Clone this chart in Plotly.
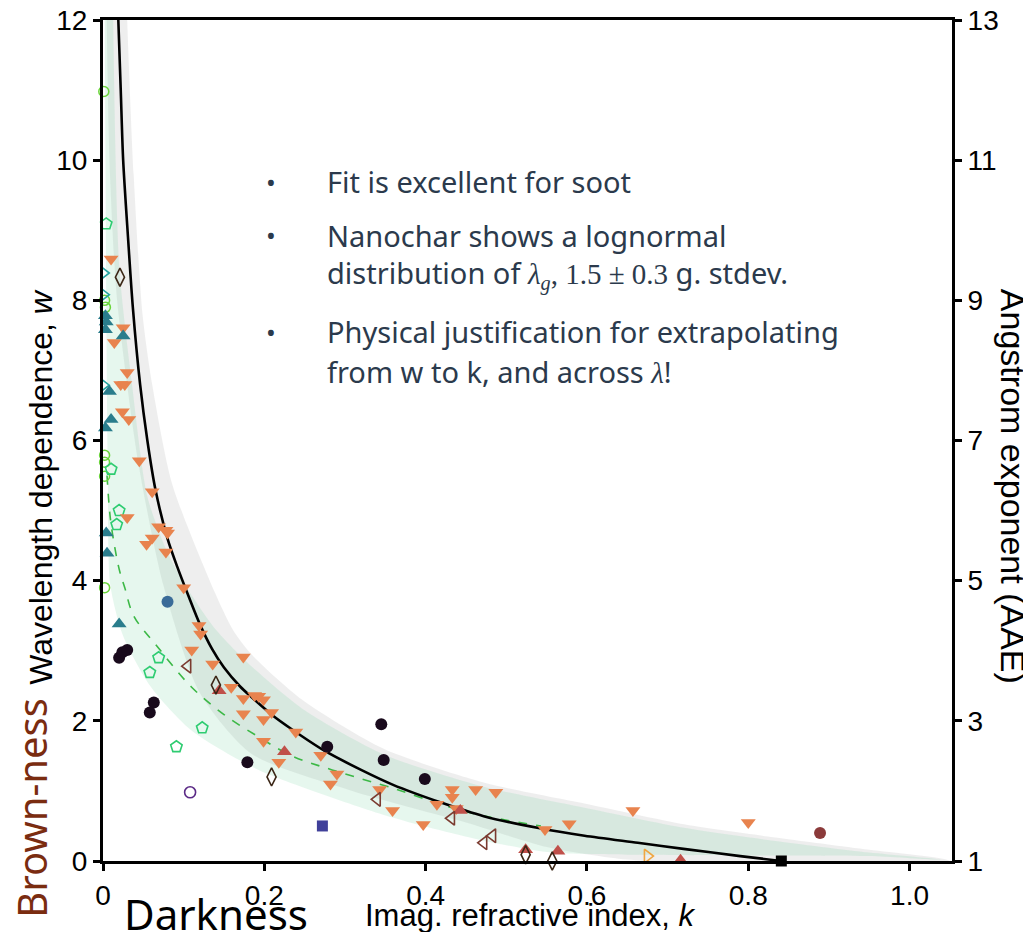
import plotly.graph_objects as go

# ---------------- data ----------------
# fitted curve (black)
fit_k = [0.019, 0.022, 0.025, 0.031, 0.037, 0.046, 0.055, 0.065, 0.080, 0.092, 0.106, 0.120, 0.135, 0.150,
         0.170, 0.184, 0.210, 0.234, 0.275, 0.320, 0.359, 0.420, 0.472, 0.540, 0.597, 0.663, 0.722, 0.790, 0.841]
fit_w = [12.0, 11.0, 10.0, 8.9, 7.9, 6.8, 6.0, 5.3, 4.6, 4.2, 3.78, 3.38, 3.03, 2.76,
         2.49, 2.34, 2.08, 1.88, 1.57, 1.30, 1.09, 0.83, 0.64, 0.47, 0.36, 0.26, 0.17, 0.07, 0.0]

# nanochar median curve (green dashed)
med_k = [0.005, 0.009, 0.015, 0.021, 0.027, 0.038, 0.068, 0.109, 0.150, 0.193, 0.234, 0.284, 0.359, 0.451, 0.543]
med_w = [5.5, 4.9, 4.45, 4.12, 3.9, 3.5, 3.05, 2.49, 2.09, 1.77, 1.50, 1.30, 1.04, 0.70, 0.50]

# fit uncertainty band (grey)
grey_up_k = [0.029, 0.030, 0.038, 0.049, 0.061, 0.086, 0.138, 0.161, 0.184, 0.247, 0.348, 0.472, 0.597, 0.722, 0.831, 0.950, 1.050]
grey_up_w = [12.5, 12.0, 9.8, 7.8, 6.8, 5.37, 3.85, 3.3, 2.95, 2.3, 1.6, 1.12, 0.82, 0.52, 0.34, 0.16, 0.0]
grey_lo_k = [0.004, 0.008, 0.0175, 0.045, 0.075, 0.120, 0.184, 0.309, 0.450, 0.550, 0.650, 0.800, 1.050]
grey_lo_w = [12.5, 10.0, 8.0, 5.6, 3.93, 2.4, 1.53, 1.0, 0.55, 0.2, 0.02, -0.05, -0.05]

# nanochar lognormal band (mint)
mint_up_k = [0.012, 0.020, 0.036, 0.055, 0.080, 0.104, 0.140, 0.184, 0.250, 0.348, 0.472, 0.597, 0.722, 0.831, 0.950, 1.040]
mint_up_w = [12.5, 8.5, 6.8, 5.2, 4.4, 3.9, 3.3, 2.78, 2.15, 1.52, 1.06, 0.76, 0.47, 0.29, 0.12, 0.02]
mint_lo_k = [0.002, 0.004, 0.006, 0.009, 0.025, 0.059, 0.109, 0.193, 0.359, 0.472, 0.556, 0.650, 0.800, 0.950, 1.030]
mint_lo_w = [12.5, 8.0, 5.5, 3.94, 3.21, 2.49, 1.87, 1.30, 0.62, 0.29, 0.12, 0.09, 0.08, 0.07, 0.02]

# measurements
orange_k = [0.010, 0.025, 0.014, 0.030, 0.022, 0.027, 0.024, 0.032, 0.045, 0.061, 0.030, 0.069, 0.078, 0.080,
            0.061, 0.054, 0.078, 0.100, 0.119, 0.121, 0.110, 0.174, 0.136, 0.159, 0.174, 0.188, 0.193, 0.199,
            0.174, 0.209, 0.199, 0.239, 0.199, 0.218, 0.270, 0.290, 0.282, 0.343, 0.359, 0.397, 0.414, 0.433,
            0.433, 0.438, 0.462, 0.487, 0.548, 0.578, 0.657, 0.800]
orange_w = [8.59, 7.61, 7.40, 6.97, 6.80, 6.80, 6.41, 6.30, 5.71, 5.27, 4.90, 4.77, 4.72, 4.68,
            4.61, 4.52, 4.41, 3.90, 3.36, 3.24, 3.01, 2.91, 2.81, 2.48, 2.32, 2.36, 2.35, 2.30,
            2.10, 2.12, 2.02, 1.84, 1.71, 1.41, 1.51, 1.24, 1.10, 1.02, 0.72, 0.52, 0.81, 1.02,
            0.91, 0.75, 1.02, 0.98, 0.45, 0.53, 0.72, 0.55]

teal_k = [0.003, 0.004, 0.003, 0.025, 0.008, 0.010, 0.003, 0.004, 0.005, 0.020]
teal_w = [7.78, 7.69, 7.58, 7.49, 6.70, 6.30, 6.18, 4.68, 4.39, 3.38]

red_k = [0.144, 0.225, 0.443, 0.524, 0.564, 0.716]
red_w = [2.43, 1.56, 0.72, 0.16, 0.14, 0.01]

soot_k = [0.020, 0.024, 0.030, 0.063, 0.058, 0.179, 0.278, 0.345, 0.348, 0.399]
soot_w = [2.90, 2.98, 3.01, 2.26, 2.12, 1.41, 1.63, 1.95, 1.44, 1.17]

blue_k, blue_w = [0.080], [3.70]
brown_k, brown_w = [0.889], [0.40]
blacksq_k, blacksq_w = [0.841], [0.0]
navy_k, navy_w = [0.272], [0.50]
purple_k, purple_w = [0.108], [0.98]

diamond_k = [0.021, 0.140, 0.209, 0.524, 0.557]
diamond_w = [8.33, 2.51, 1.20, 0.09, 0.0]

left_k = [0.105, 0.340, 0.432, 0.472, 0.483]
left_w = [2.78, 0.88, 0.61, 0.26, 0.36]

yright_k, yright_w = [0.675], [0.07]

tright_k = [0.001, 0.001, 0.001]
tright_w = [8.39, 8.08, 6.79]

lime_k = [0.001, 0.002, 0.003, 0.002, 0.002, 0.002, 0.002]
lime_w = [10.98, 8.00, 7.90, 5.79, 5.69, 5.49, 3.90]

pent_k = [0.004, 0.010, 0.020, 0.017, 0.069, 0.058, 0.123, 0.091]
pent_w = [9.09, 5.59, 5.00, 4.80, 2.90, 2.69, 1.90, 1.63]

x_ticks = [0, 0.2, 0.4, 0.6, 0.8, 1.0]
x_tick_text = ["0", "0.2", "0.4", "0.6", "0.8", "1.0"]
y_ticks = [0, 2, 4, 6, 8, 10, 12]
y2_ticks = [1, 3, 5, 7, 9, 11, 13]

# ---------------- figure ----------------
fig = go.Figure()

def band(up_k, up_w, lo_k, lo_w, color):
    fig.add_trace(go.Scatter(
        x=up_k + lo_k[::-1], y=up_w + lo_w[::-1], mode="lines", fill="toself",
        fillcolor=color, line=dict(width=0, shape="spline", smoothing=0.7),
        hoverinfo="skip", showlegend=False))

band(grey_up_k, grey_up_w, grey_lo_k, grey_lo_w, "rgba(200,200,200,0.30)")
band(mint_up_k, mint_up_w, mint_lo_k, mint_lo_w, "rgba(88,202,142,0.15)")

fig.add_trace(go.Scatter(x=med_k, y=med_w, mode="lines",
                         line=dict(color="#3cb846", width=1.6, dash="dash", shape="spline"),
                         hoverinfo="skip", showlegend=False))
fig.add_trace(go.Scatter(x=fit_k, y=fit_w, mode="lines",
                         line=dict(color="black", width=2.6, shape="spline", smoothing=0.8),
                         hoverinfo="skip", showlegend=False))

def pts(xs, ys, symbol, color, size=12, open_=False, lw=1.6):
    if open_:
        marker = dict(symbol=symbol, size=size, color=color, line=dict(color=color, width=lw))
    else:
        marker = dict(symbol=symbol, size=size, color=color, line=dict(width=0))
    fig.add_trace(go.Scatter(x=xs, y=ys, mode="markers", marker=marker,
                             cliponaxis=False, showlegend=False))

pts(lime_k, lime_w, "circle-open", "#6ad43a", size=10, open_=True, lw=1.5)
pts(tright_k, tright_w, "triangle-right-open", "#22a3a0", size=11, open_=True, lw=1.6)
pts(pent_k, pent_w, "pentagon-open", "#2ecc71", size=12, open_=True, lw=1.6)
pts(orange_k, orange_w, "triangle-down", "#e8834e", size=13)
pts(teal_k, teal_w, "triangle-up", "#2a7d8c", size=13)
pts(red_k, red_w, "triangle-up", "#c0504a", size=13)
pts(soot_k, soot_w, "circle", "#190a1c", size=12)
pts(blue_k, blue_w, "circle", "#3a6b98", size=12)
pts(brown_k, brown_w, "circle", "#8b3a3a", size=12)
pts(navy_k, navy_w, "square", "#40409a", size=11)
pts(blacksq_k, blacksq_w, "square", "#000000", size=11)
pts(purple_k, purple_w, "circle-open", "#5b2a86", size=11, open_=True, lw=1.6)
pts(diamond_k, diamond_w, "diamond-tall-open", "#3b2616", size=13, open_=True, lw=1.6)
pts(left_k, left_w, "triangle-left-open", "#7b3b30", size=12, open_=True, lw=1.6)
pts(yright_k, yright_w, "triangle-right-open", "#f0a540", size=12, open_=True, lw=1.6)

# invisible trace so the right axis is drawn
fig.add_trace(go.Scatter(x=[0.5], y=[7], yaxis="y2", mode="markers",
                         marker=dict(opacity=0), hoverinfo="skip", showlegend=False))

# the page body has an 8px margin, so the figure is shifted by 8px
tick_font = dict(family="Liberation Sans, Arial", size=28, color="black")
axis_common = dict(ticks="outside", ticklen=7, tickwidth=3, tickcolor="black",
                   showline=True, linewidth=3, linecolor="black",
                   showgrid=False, zeroline=False, tickfont=tick_font,
                   automargin=False, ticklabeloverflow="allow")
fig.update_layout(
    width=1023, height=924,
    margin=dict(l=95, r=79, t=12, b=71),
    paper_bgcolor="white", plot_bgcolor="white",
    xaxis=dict(range=[0, 1.0526], tickvals=x_ticks, ticktext=x_tick_text, mirror=True, **axis_common),
    yaxis=dict(range=[0, 12], tickvals=y_ticks, **axis_common),
    yaxis2=dict(range=[1, 13], tickvals=y2_ticks, overlaying="y", side="right", **axis_common),
)

# page pixel -> paper coordinates (plot area spans x 103..944, y 20..853 on the page)
def px2paper(px, py):
    return (px - 103) / 841.0, (853 - py) / 833.0

def label(px, py, text, size, color="black", family="Liberation Sans, Arial",
          angle=0, xanchor="center"):
    xp, yp = px2paper(px, py)
    fig.add_annotation(x=xp, y=yp, xref="paper", yref="paper", text=text, showarrow=False,
                       textangle=angle, xanchor=xanchor, yanchor="middle",
                       font=dict(family=family, size=size, color=color))

label(42, 482, "Wavelength dependence, <i>w</i>", 32, angle=-90)
label(1004, 482, "Angstrom exponent (AAE)", 34, angle=90)
label(526, 907, "Imag. refractive index, <i>k</i>", 31)
label(32, 800, "Brown-ness", 40, color="#7a2c10", family="Noto Sans, Open Sans", angle=-90)
label(215, 905, "Darkness", 42, family="Noto Sans, Open Sans")

txt_font = "Noto Sans, Open Sans"
txt_col = "#2b3a4c"
serif = "<span style='font-family:Liberation Serif, DejaVu Serif'>"
bullet_lines = [
    (180, "•", "Fit is excellent for soot"),
    (233, "•", "Nanochar shows a lognormal"),
    (272, None, "distribution of " + serif + "<i>λ</i><sub><i>g</i></sub>, 1.5 ± 0.3</span> g. stdev."),
    (329, "•", "Physical justification for extrapolating"),
    (368, None, "from w to k, and across " + serif + "<i>λ</i></span>!"),
]
for py, b, t in bullet_lines:
    if b:
        label(269, py, b, 26, color=txt_col, family=txt_font)
    label(323, py, t, 29, color=txt_col, family=txt_font, xanchor="left")

fig.write_html("out.html")
